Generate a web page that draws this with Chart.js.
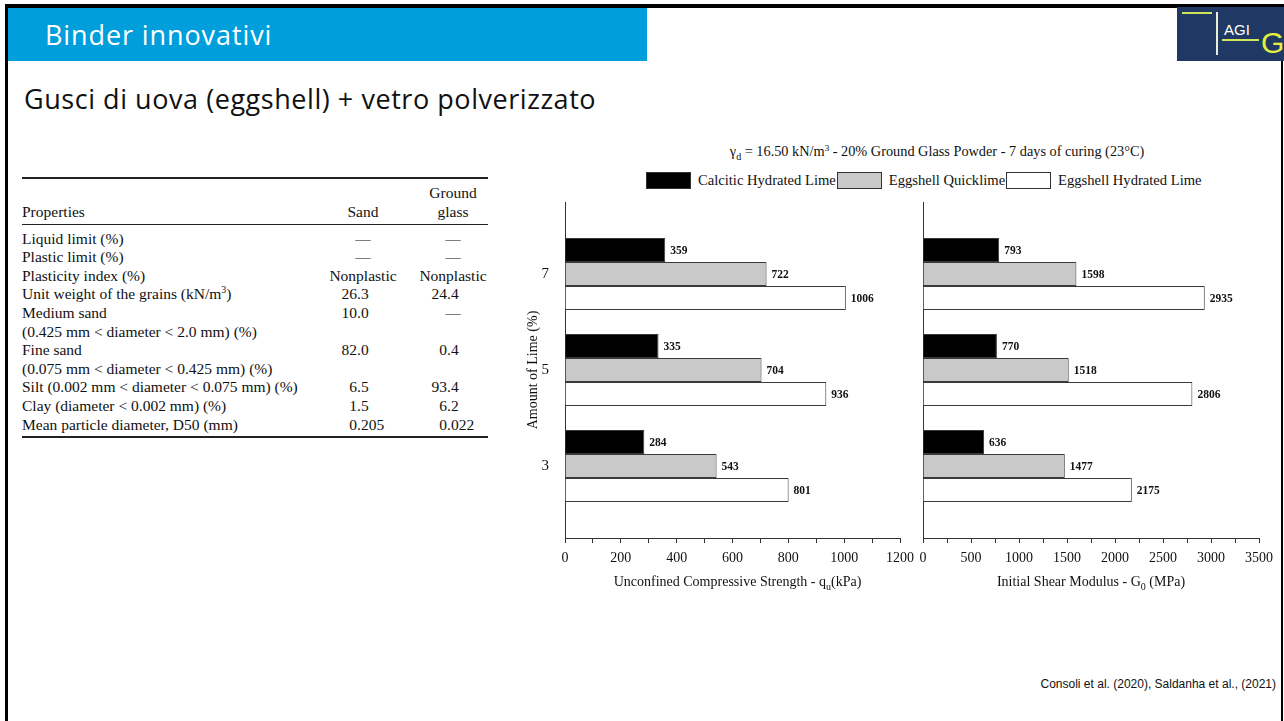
<!DOCTYPE html>
<html>
<head>
<meta charset="utf-8">
<title>Binder innovativi</title>
<script src="https://cdn.jsdelivr.net/npm/chart.js@4.4.1/dist/chart.umd.min.js"></script>
<style>
  html, body { margin: 0; padding: 0; background: #ffffff; }
  body { width: 1284px; height: 721px; position: relative; overflow: hidden; font-family: "Liberation Serif", "Times New Roman", serif; color: #111; }
  .abs { position: absolute; }
  /* slide frame */
  #frameTop { left: 5px; top: 4px; width: 1279px; height: 4px; background: #000; }
  #frameLeft { left: 5px; top: 4px; width: 3px; height: 717px; background: #000; }
  #frameRight { left: 1281px; top: 60px; width: 2px; height: 661px; background: #000; }
  /* header band */
  #band { left: 8px; top: 8px; width: 639px; height: 53px; background: #009fdb; }
  #band span { position: absolute; left: 37px; top: 8px; font-family: "Open Sans", Lato, sans-serif; font-weight: 400; font-size: 27px; color: #ffffff; letter-spacing: 0.9px; }
  #subtitle { left: 24px; top: 80px; font-family: "Open Sans", Lato, sans-serif; font-weight: 400; font-size: 27px; color: #111; white-space: nowrap; letter-spacing: 0.55px; }
  /* logo */
  #logo { left: 1177px; top: 7px; width: 107px; height: 54px; background: #1f3864; }
  #logo .bar { position: absolute; background: #d2e65c; }
  #logo .vbar { position: absolute; left: 39px; top: 5px; width: 2px; height: 43px; background: #e6efd6; }
  #logo .agi { position: absolute; left: 47px; top: 14px; font-family: "Liberation Sans", Arial, sans-serif; font-size: 15px; color: #ffffff; }
  #logo .g { position: absolute; left: 84px; top: 19px; font-family: "Liberation Sans", Arial, sans-serif; font-size: 30px; color: #e4f03a; }
  /* table */
  .rule { position: absolute; left: 22px; width: 466px; background: #222; }
  .row { position: absolute; left: 22px; width: 466px; height: 19px; font-size: 15.5px; line-height: 19px; white-space: nowrap; }
  .row .p { position: absolute; left: 0; }
  .row .c2, .row .c3 { position: absolute; text-align: center; width: 100px; }
  .row .c2 { left: 291px; }
  .row .c3 { left: 381px; }
  .row .n2i, .row .n3i { position: absolute; text-align: right; width: 60px; }
  .row .n2i { left: 275px; }
  .row .n3i { left: 365px; }
  .row .n2f, .row .n3f { position: absolute; text-align: left; }
  .row .n2f { left: 335px; }
  .row .n3f { left: 425px; }
  /* chart heading and legend */
  #chartTitle { left: 600px; width: 674px; top: 143px; text-align: center; font-size: 14.3px; white-space: nowrap; }
  #chartTitle sub { font-size: 10px; vertical-align: -4px; line-height: 0; }
  #chartTitle sup { font-size: 9px; vertical-align: 5px; line-height: 0; }
  #legend { left: 646px; top: 171px; display: flex; align-items: center; height: 18px; font-size: 14.6px; white-space: nowrap; }
  #legend .box { width: 43px; height: 15px; border: 1px solid #333; margin-right: 7px; }
  #legend .txt { margin-right: 1px; }
  canvas { position: absolute; }
  #cite { right: 8px; top: 677px; font-family: "Liberation Sans", Arial, sans-serif; font-size: 12px; color: #111; }
</style>
</head>
<body>
<div id="frameTop" class="abs"></div>
<div id="frameLeft" class="abs"></div>
<div id="frameRight" class="abs"></div>

<div id="band" class="abs"><span>Binder innovativi</span></div>
<div id="subtitle" class="abs">Gusci di uova (eggshell) + vetro polverizzato</div>

<div id="logo" class="abs">
  <div class="bar" style="left:5px;top:5px;width:30px;height:2px;"></div>
  <div class="vbar"></div>
  <div class="agi">AGI</div>
  <div class="bar" style="left:45px;top:32px;width:37px;height:2px;"></div>
  <div class="g">G</div>
</div>

<!-- soil properties table -->
<div class="rule" style="top:177px;height:2px;"></div>
<div class="row" style="top:183px;"><span class="c3">Ground</span></div>
<div class="row" style="top:202px;"><span class="p">Properties</span><span class="c2">Sand</span><span class="c3">glass</span></div>
<div class="rule" style="top:224px;height:1px;"></div>
<div id="tableBody"></div>
<div class="rule" style="top:436px;height:2px;"></div>

<div id="chartTitle" class="abs">γ<sub>d</sub> = 16.50 kN/m<sup>3</sup> - 20% Ground Glass Powder - 7 days of curing (23°C)</div>
<div id="legend" class="abs"></div>

<canvas id="ucsChart" width="415" height="410" style="left:505px;top:195px;"></canvas>
<canvas id="g0Chart" width="361" height="410" style="left:918px;top:195px;"></canvas>

<div id="cite" class="abs">Consoli et al. (2020), Saldanha et al., (2021)</div>

<script>
// ---- data ----
const LIME = [7, 5, 3];                       // amount of lime (%)
const SERIES = ['Calcitic Hydrated Lime', 'Eggshell Quicklime', 'Eggshell Hydrated Lime'];
const FILLS = ['#000000', '#c9c9c9', '#ffffff'];

// unconfined compressive strength qu (kPa), per lime content 7, 5, 3
const UCS_CALCITIC = [359, 335, 284];
const UCS_EGG_QUICK = [722, 704, 543];
const UCS_EGG_HYDRATED = [1006, 936, 801];

// initial shear modulus G0 (MPa), per lime content 7, 5, 3
const G0_CALCITIC = [793, 770, 636];
const G0_EGG_QUICK = [1598, 1518, 1477];
const G0_EGG_HYDRATED = [2935, 2806, 2175];

// axis tick labels
const UCS_TICK_LABELS = [0, 200, 400, 600, 800, 1000, 1200];
const G0_TICK_LABELS = [0, 500, 1000, 1500, 2000, 2500, 3000, 3500];

// table rows: property, sand, ground glass
const TABLE_ROWS = [
  ['Liquid limit (%)', '—', '—'],
  ['Plastic limit (%)', '—', '—'],
  ['Plasticity index (%)', 'Nonplastic', 'Nonplastic'],
  ['Unit weight of the grains (kN/m<sup style="font-size:10px;line-height:0">3</sup>)', '26.3', '24.4'],
  ['Medium sand', '10.0', '—'],
  ['(0.425 mm &lt; diameter &lt; 2.0 mm) (%)', '', ''],
  ['Fine sand', '82.0', '0.4'],
  ['(0.075 mm &lt; diameter &lt; 0.425 mm) (%)', '', ''],
  ['Silt (0.002 mm &lt; diameter &lt; 0.075 mm) (%)', '6.5', '93.4'],
  ['Clay (diameter &lt; 0.002 mm) (%)', '1.5', '6.2'],
  ['Mean particle diameter, D50 (mm)', '0.205', '0.022']
];

// ---- table ----
function cell(text, col) {
  if (text === '') return '';
  const m = /^(\d+)(\.\d+)$/.exec(text);
  if (m) {
    return '<span class="n' + col + 'i">' + m[1] + '</span><span class="n' + col + 'f">' + m[2] + '</span>';
  }
  return '<span class="c' + col + '">' + text + '</span>';
}
const tb = document.getElementById('tableBody');
TABLE_ROWS.forEach((r, i) => {
  const d = document.createElement('div');
  d.className = 'row';
  d.style.top = (228.5 + i * 18.6) + 'px';
  d.innerHTML = '<span class="p">' + r[0] + '</span>' + cell(r[1], 2) + cell(r[2], 3);
  tb.appendChild(d);
});

// ---- legend ----
const lg = document.getElementById('legend');
SERIES.forEach((name, k) => {
  const b = document.createElement('span');
  b.className = 'box';
  b.style.background = FILLS[k];
  const t = document.createElement('span');
  t.className = 'txt';
  t.textContent = name;
  lg.appendChild(b);
  lg.appendChild(t);
});

// ---- charts ----
const SERIF = '"Liberation Serif", "Times New Roman", serif';

// value printed at the end of each bar
const barValuePlugin = {
  id: 'barValues',
  afterDatasetsDraw(chart) {
    const ctx = chart.ctx;
    ctx.save();
    ctx.font = 'bold 11.5px ' + SERIF;
    ctx.fillStyle = '#111';
    ctx.textAlign = 'left';
    ctx.textBaseline = 'middle';
    chart.data.datasets.forEach((ds, k) => {
      chart.getDatasetMeta(k).data.forEach((el, i) => {
        ctx.fillText(String(ds.data[i].x), el.x + 5, el.y + 1);
      });
    });
    ctx.restore();
  }
};

// horizontal axis title with a subscript part
const axisTitlePlugin = {
  id: 'axisTitle',
  afterDraw(chart, args, opts) {
    const { ctx, chartArea } = chart;
    const main = '14px ' + SERIF, small = '10px ' + SERIF;
    ctx.save();
    let total = 0;
    const widths = opts.parts.map(p => {
      ctx.font = p.sub ? small : main;
      const w = ctx.measureText(p.text).width;
      total += w;
      return w;
    });
    let x = (chartArea.left + chartArea.right) / 2 - total / 2 + (opts.shift || 0);
    const y = chartArea.bottom + opts.offset;
    ctx.fillStyle = '#111';
    ctx.textAlign = 'left';
    ctx.textBaseline = 'alphabetic';
    opts.parts.forEach((p, i) => {
      ctx.font = p.sub ? small : main;
      ctx.fillText(p.text, x, y + (p.sub ? 4 : 0));
      x += widths[i];
    });
    ctx.restore();
  }
};

function makeChart(id, seriesValues, xMax, step, tickLabels, titleParts, titleShift, showY, yWidth) {
  return new Chart(document.getElementById(id), {
    type: 'bar',
    data: {
      datasets: SERIES.map((name, k) => ({
        label: name,
        data: LIME.map((l, i) => ({ x: seriesValues[k][i], y: l })),
        backgroundColor: FILLS[k],
        borderColor: '#3a3a3a',
        borderWidth: 1,
        categoryPercentage: 0.75,
        barPercentage: 1.0
      }))
    },
    options: {
      indexAxis: 'y',
      responsive: false,
      animation: false,
      devicePixelRatio: 1,
      layout: { padding: { top: 7, right: 20, left: 0, bottom: 0 } },
      plugins: {
        legend: { display: false },
        tooltip: { enabled: false },
        axisTitle: { parts: titleParts, offset: 48, shift: titleShift }
      },
      scales: {
        x: {
          type: 'linear',
          position: 'bottom',
          min: 0,
          max: xMax,
          offset: false,
          ticks: {
            stepSize: step,
            autoSkip: false,
            maxRotation: 0,
            padding: 7,
            color: '#111',
            font: { family: SERIF, size: 14 },
            callback: v => tickLabels.includes(v) ? String(v) : ''
          },
          grid: { display: true, drawOnChartArea: false, drawTicks: true, tickLength: 5, color: '#333', lineWidth: 1, offset: false },
          border: { display: true, color: '#333', width: 1 },
          afterFit: s => { s.height = 67; s.paddingLeft = 0; s.paddingRight = 0; }
        },
        y: {
          type: 'linear',
          min: 1.5,
          max: 8.5,
          offset: false,
          afterBuildTicks: s => { s.ticks = LIME.map(v => ({ value: v })); },
          ticks: {
            display: showY,
            padding: 8,
            color: '#111',
            font: { family: SERIF, size: 15 },
            callback: v => String(v)
          },
          grid: { display: false, offset: false },
          border: { display: true, color: '#333', width: 1 },
          title: {
            display: showY,
            text: 'Amount of Lime (%)',
            color: '#111',
            font: { family: SERIF, size: 14 },
            padding: { top: 20, bottom: 0 }
          },
          afterFit: s => { s.width = yWidth; s.paddingTop = 0; s.paddingBottom = 0; }
        }
      }
    },
    plugins: [barValuePlugin, axisTitlePlugin]
  });
}

makeChart('ucsChart',
  [UCS_CALCITIC, UCS_EGG_QUICK, UCS_EGG_HYDRATED],
  1200, 100, UCS_TICK_LABELS,
  [{ text: 'Unconfined Compressive Strength - q' }, { text: 'u', sub: true }, { text: '(kPa)' }],
  5, true, 60);

makeChart('g0Chart',
  [G0_CALCITIC, G0_EGG_QUICK, G0_EGG_HYDRATED],
  3500, 250, G0_TICK_LABELS,
  [{ text: 'Initial Shear Modulus - G' }, { text: '0', sub: true }, { text: ' (MPa)' }],
  0, false, 5);
</script>
</body>
</html>
